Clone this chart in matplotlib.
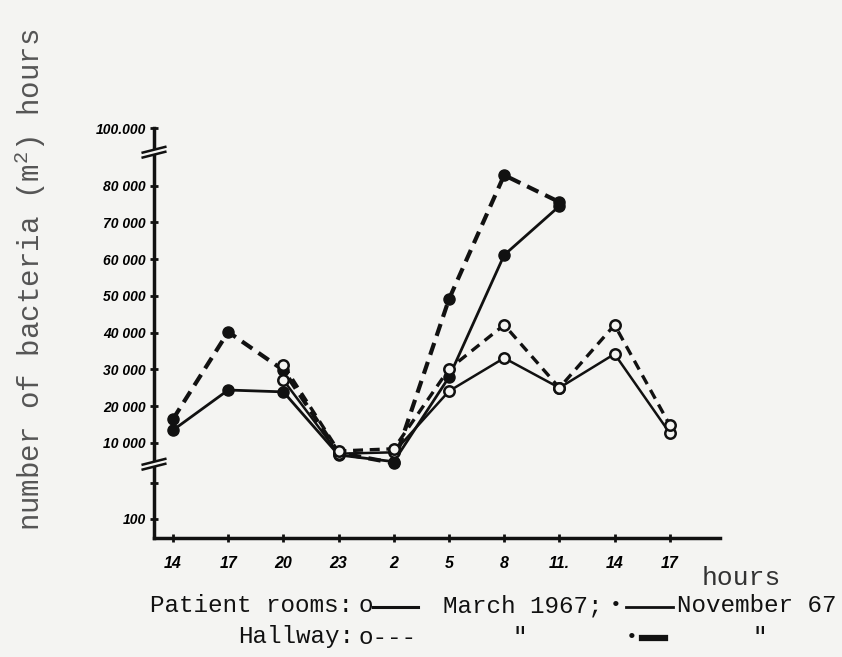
import matplotlib
matplotlib.use("Agg")
import matplotlib.pyplot as plt
from matplotlib.lines import Line2D
import numpy as np

hour_labels = ['14', '17', '20', '23', '2', '5', '8', '11.', '14', '17']
x_pos = np.arange(len(hour_labels))

# November 67: Stunden-Index 0..7
nov_x = x_pos[0:8]
patient_nov = [13500, 24400, 23900, 7300, 5800, 27900, 61100, 74400]
hallway_nov = [16500, 40200, 29800, 7800, 5500, 49100, 83600, 75500]

# March 1967: Stunden-Index 2..9
mar_x = x_pos[2:10]
patient_mar = [27100, 7600, 7900, 24100, 33100, 25000, 34200, 12700]
hallway_mar = [31200, 8200, 8700, 30100, 42100, 25000, 42100, 14900]

ytick_vals = [100, 1000, 10000, 20000, 30000, 40000, 50000, 60000, 70000, 80000, 100000]
ytick_labels = ['100', '', '10 000', '20 000', '30 000', '40 000', '50 000',
                '60 000', '70 000', '80 000', '100.000']

# gebrochene Achse: stueckweise lineare Skala
knots_v = np.array([0, 100, 1000, 10000, 80000, 100000], dtype=float)
knots_u = np.array([0, 19, 55, 95, 352.5, 410], dtype=float)


def fwd(v):
    return np.interp(v, knots_v, knots_u)


def inv(u):
    return np.interp(u, knots_u, knots_v)


plt.rcParams['mathtext.fontset'] = 'custom'
plt.rcParams['mathtext.rm'] = 'Liberation Mono'
plt.rcParams['mathtext.it'] = 'Liberation Mono'

bg = '#f4f4f2'
ink = '#111111'
fig = plt.figure(figsize=(8.42, 6.57), dpi=100, facecolor=bg)
ax = fig.add_axes([154 / 842, (657 - 538) / 657, 566 / 842, 410 / 657])
ax.set_facecolor(bg)
ax.set_yscale('function', functions=(fwd, inv))

ax.plot(nov_x, patient_nov, '-', color=ink, lw=2, marker='o', ms=8,
        mfc=ink, mec=ink, zorder=3)
ax.plot(nov_x, hallway_nov, '--', color=ink, lw=3, dashes=(3, 1.8),
        marker='o', ms=8, mfc=ink, mec=ink, zorder=3)
ax.plot(mar_x, patient_mar, '-', color=ink, lw=1.8, marker='o', ms=7.5,
        mfc=bg, mec=ink, mew=1.8, zorder=4)
ax.plot(mar_x, hallway_mar, '--', color=ink, lw=2.4, dashes=(3, 2),
        marker='o', ms=7.5, mfc=bg, mec=ink, mew=1.8, zorder=4)

ax.set_xlim(-0.344, 9.91)
ax.set_ylim(0, 100000)

for s in ['top', 'right']:
    ax.spines[s].set_visible(False)
for s in ['left', 'bottom']:
    ax.spines[s].set_linewidth(2.5)
    ax.spines[s].set_color(ink)

ax.set_xticks(x_pos)
ax.set_xticklabels(hour_labels, fontfamily='Liberation Sans', fontweight='bold',
                   fontstyle='italic', fontsize=11.5)
ax.set_yticks(ytick_vals)
ax.set_yticklabels(ytick_labels, fontfamily='Liberation Sans', fontweight='bold',
                   fontstyle='italic', fontsize=10)
ax.yaxis.set_minor_locator(matplotlib.ticker.NullLocator())
ax.tick_params(axis='both', direction='inout', length=6, width=2, color=ink)
ax.tick_params(axis='x', pad=10)
ax.tick_params(axis='y', pad=3)

# Achsenbruch-Markierungen
for yb in [0.185, 0.946]:
    ax.plot([-0.02, 0.02], [yb - 0.012, yb + 0.002], transform=ax.transAxes,
            color=bg, lw=4, clip_on=False, zorder=5)
    ax.plot([-0.02, 0.02], [yb - 0.018, yb - 0.004], transform=ax.transAxes,
            color=ink, lw=1.8, clip_on=False, zorder=6)
    ax.plot([-0.02, 0.02], [yb - 0.006, yb + 0.008], transform=ax.transAxes,
            color=ink, lw=1.8, clip_on=False, zorder=6)

mono = ['Liberation Mono', 'DejaVu Sans Mono', 'DejaVu Sans']

# Y-Beschriftung
fig.text(30 / 842, 1 - 280 / 657, 'number of bacteria (m$^2$) hours', rotation=90,
         ha='center', va='center', fontfamily=mono, fontsize=21, color='#555555')

# "hours" unter der x-Achse
fig.text(702 / 842, 1 - 578 / 657, 'hours', ha='left', va='center',
         fontfamily=mono, fontsize=19, color='#333333')

# Legende als Schreibmaschinentext
leg_size = 17.5
y1 = 1 - 606 / 657
y2 = 1 - 637 / 657


def ftext(x, y, s, size=leg_size):
    fig.text(x / 842, y, s, ha='left', va='center', fontfamily=mono,
             fontsize=size, color=ink)


def fline(x0, x1, y, lw):
    fig.add_artist(Line2D([x0 / 842, x1 / 842], [y, y], color=ink, lw=lw,
                          transform=fig.transFigure))


ftext(150, y1, 'Patient rooms:')
ftext(358, y1, 'o')
fline(373, 418, y1 - 0.001, 2.2)
ftext(443, y1, 'March 1967;')
ftext(610, y1, '\u2022', 14)
fline(626, 673, y1 - 0.001, 2.0)
ftext(677, y1, 'November 67')

ftext(238, y2, 'Hallway:')
ftext(358, y2, 'o---')
ftext(513, y2, '"')
ftext(626, y2, '\u2022', 14)
fline(642, 665, y2 - 0.001, 4.5)
ftext(752, y2, '"')

fig.savefig('out.png', dpi=100, facecolor=bg)
